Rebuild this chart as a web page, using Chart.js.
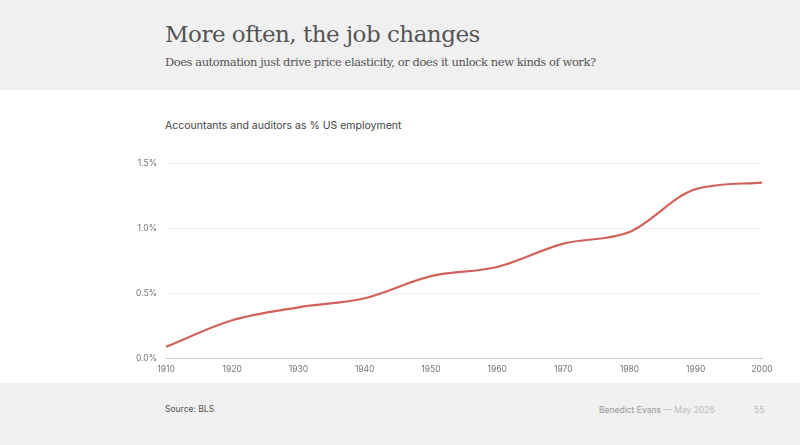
<!DOCTYPE html>
<html>
<head>
<meta charset="utf-8">
<script src="https://cdn.jsdelivr.net/npm/chart.js@4"></script>
<style>
  body { margin: 0; width: 800px; height: 445px; position: relative; background: #fff; overflow: hidden; font-family: Inter, "Noto Sans", sans-serif; }
  .top { position: absolute; left: 0; top: 0; width: 800px; height: 90px; background: #f0f0f0; }
  .bottom { position: absolute; left: 0; top: 383px; width: 800px; height: 62px; background: #f0f0f0; }
  h1 { position: absolute; left: 165px; top: 21px; margin: 0; font: 23px "DejaVu Serif", serif; color: #555; letter-spacing: -0.5px; white-space: nowrap; }
  .sub { position: absolute; left: 165px; top: 55px; margin: 0; font: 11.5px "DejaVu Serif", serif; color: #555; letter-spacing: -0.45px; white-space: nowrap; }
  .ctitle { position: absolute; left: 165px; top: 119px; font-size: 10.5px; color: #444; }
  .src { position: absolute; left: 165px; top: 404px; font-size: 8.5px; color: #555; }
  .by { position: absolute; left: 599px; top: 405px; font-size: 8.5px; color: #999; }
  .by span { color: #bbb; }
  .page { position: absolute; left: 754px; top: 405px; font-size: 8.5px; color: #bbb; }
  #wrap { position: absolute; left: 100px; top: 149px; width: 680px; height: 231px; }
</style>
</head>
<body>
<div class="top"></div>
<div class="bottom"></div>
<h1>More often, the job changes</h1>
<p class="sub">Does automation just drive price elasticity, or does it unlock new kinds of work?</p>
<div class="ctitle">Accountants and auditors as % US employment</div>
<div id="wrap"><canvas id="myChart"></canvas></div>
<div class="src">Source: BLS</div>
<div class="by">Benedict Evans <span>— May 2026</span></div>
<div class="page">55</div>
<script>
const ctx = document.querySelector("#myChart").getContext("2d");

const years = [1910, 1920, 1930, 1940, 1950, 1960, 1970, 1980, 1990, 2000];
const share = [0.086, 0.29, 0.39, 0.46, 0.63, 0.70, 0.88, 0.97, 1.30, 1.35];
const yTicks = [0, 0.5, 1.0, 1.5];

const config = {
  type: "line",
  data: {
    labels: years,
    datasets: [
      {
        data: share,
        borderColor: "#d0625a",
        borderWidth: 2.2,
        pointRadius: 0,
        cubicInterpolationMode: "monotone",
        fill: false,
      },
    ],
  },
  options: {
    responsive: true,
    maintainAspectRatio: false,
    animation: false,
    layout: { padding: { top: 10, right: 18, left: 0, bottom: 0 } },
    plugins: { legend: { display: false }, tooltip: { enabled: false } },
    scales: {
      x: {
        grid: { display: false, drawTicks: false },
        border: { color: "#ccc", width: 1 },
        ticks: {
          color: "#777",
          font: { family: "Inter", size: 8.5 },
          maxRotation: 0,
          padding: 6,
        },
        afterFit: (scale) => { scale.height = 22; },
      },
      y: {
        min: 0,
        max: 1.5,
        afterBuildTicks: (scale) => {
          scale.ticks = yTicks.map((v) => ({ value: v }));
        },
        grid: { color: "#eee", drawTicks: false },
        border: { display: false },
        ticks: {
          color: "#777",
          font: { family: "Inter", size: 8.5 },
          padding: 9,
          callback: (value) => value.toFixed(1) + "%",
        },
        afterFit: (scale) => { scale.width = 66; },
      },
    },
  },
};

const myChart = new Chart(ctx, config);
</script>
</body>
</html>
